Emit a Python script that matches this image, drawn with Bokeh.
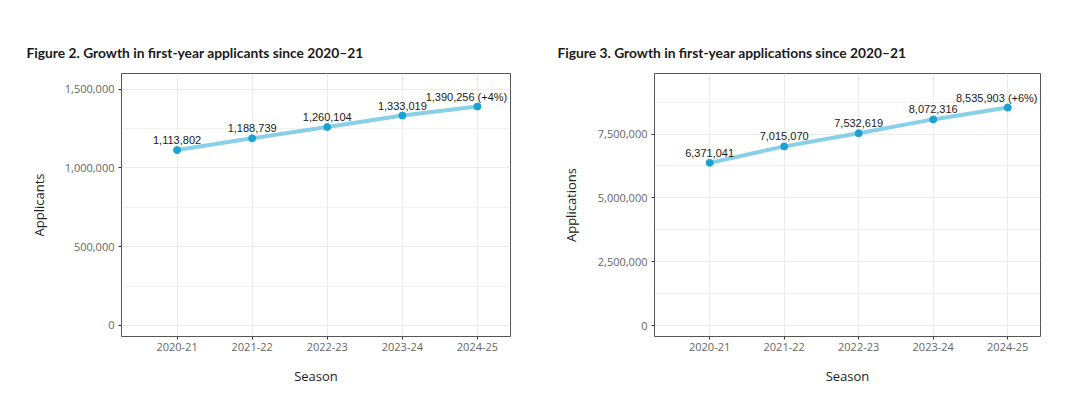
from bokeh.plotting import figure
from bokeh.layouts import row
from bokeh.models import (Range1d, FixedTicker, NumeralTickFormatter,
                          ColumnDataSource, LabelSet)
from bokeh.core.properties import value
from bokeh.embed import file_html
from bokeh.resources import INLINE

# ---- data ----
seasons = ["2020-21", "2021-22", "2022-23", "2023-24", "2024-25"]
applicants = [1113802, 1188739, 1260104, 1333019, 1390256]
applications = [6371041, 7015070, 7532619, 8072316, 8535903]
applicants_growth = "+4%"
applications_growth = "+6%"
applicants_ticks = [0, 500000, 1000000, 1500000]
applicants_minor = [250000, 750000, 1250000]
applications_ticks = [0, 2500000, 5000000, 7500000]
applications_minor = [1250000, 3750000, 6250000, 8750000]

LINE_C = "#88d0e7"
PT_C = "#1ca2d0"
GRID_C = "#ebebeb"
TICK_FONT = "Open Sans"


def make_chart(title, ylabel, values, growth, ticks, minor, yr, w, ml, mr, title_off, ystand):
    pos = [i + 1 for i in range(len(seasons))]
    p = figure(width=w, height=398, output_backend="svg", toolbar_location=None,
               x_range=Range1d(pos[0] - 0.74, pos[-1] + 0.44),
               y_range=Range1d(*yr),
               min_border_left=ml, min_border_right=mr,
               min_border_top=73, min_border_bottom=62,
               background_fill_color="white", border_fill_color="white")
    p.title.text = title
    p.title.align = "left"
    p.title.offset = title_off
    p.title.standoff = 25
    p.title.text_font = "Lato"
    p.title.text_font_size = "13.8px"
    p.title.text_font_style = "bold"
    p.title.text_color = "#1a1a1a"

    p.outline_line_color = "#555555"
    p.outline_line_width = 1

    # grids
    p.xgrid.grid_line_color = GRID_C
    p.xgrid.grid_line_width = 1
    p.ygrid.grid_line_color = GRID_C
    p.ygrid.grid_line_width = 1
    p.ygrid.minor_grid_line_color = GRID_C
    p.ygrid.minor_grid_line_width = 0.7

    # axes
    p.xaxis.ticker = FixedTicker(ticks=pos)
    p.xaxis.major_label_overrides = {k: s for k, s in zip(pos, seasons)}
    p.yaxis.ticker = FixedTicker(ticks=ticks, minor_ticks=minor)
    p.yaxis.formatter = NumeralTickFormatter(format="0,0")
    for ax in (p.xaxis[0], p.yaxis[0]):
        ax.axis_line_color = None
        ax.major_tick_line_color = "#333333"
        ax.major_tick_in = 0
        ax.major_tick_out = 3
        ax.minor_tick_line_color = None
        ax.major_label_text_font = TICK_FONT
        ax.major_label_text_font_size = "11px"
        ax.major_label_text_color = "#666666"
        ax.major_label_standoff = 3
        ax.axis_label_text_font = TICK_FONT
        ax.axis_label_text_font_size = "13px"
        ax.axis_label_text_font_style = "normal"
        ax.axis_label_text_color = "#222222"
    p.xaxis.axis_label = "Season"
    p.xaxis.axis_label_standoff = 13
    p.yaxis.axis_label = ylabel
    p.yaxis.axis_label_standoff = ystand

    labs = [f"{v:,}" for v in values[:-1]] + [f"{values[-1]:,} ({growth})"]
    src = ColumnDataSource(dict(x=pos, y=values, lab=labs))
    p.line("x", "y", source=src, line_color=LINE_C, line_width=4)
    p.scatter("x", "y", source=src, size=7, fill_color=PT_C, line_color=PT_C)

    n = len(seasons)
    src_a = ColumnDataSource(dict(x=pos[:n - 1], y=values[:n - 1], lab=labs[:n - 1]))
    src_b = ColumnDataSource(dict(x=pos[n - 1:], y=values[n - 1:], lab=labs[n - 1:]))
    for s, xo in ((src_a, 0), (src_b, -11)):
        p.add_layout(LabelSet(x="x", y="y", text="lab", source=s,
                              x_offset=xo, y_offset=10,
                              text_align="center", text_baseline="middle",
                              text_font=value("Liberation Sans"),
                              text_font_size=value("11px"),
                              text_color="#1a1a1a"))
    return p


p1 = make_chart("Figure 2. Growth in first-year applicants since 2020\u201321", "Applicants",
                applicants, applicants_growth, applicants_ticks, applicants_minor,
                (-70000, 1600000), 540, 121, 30, -95, 14)
p2 = make_chart("Figure 3. Growth in first-year applications since 2020\u201321", "Applications",
                applications, applications_growth, applications_ticks, applications_minor,
                (-430000, 9870000), 540, 114, 40, -97, 15)

p = row(p1, p2)
open("out.html", "w").write(file_html(p, INLINE))
